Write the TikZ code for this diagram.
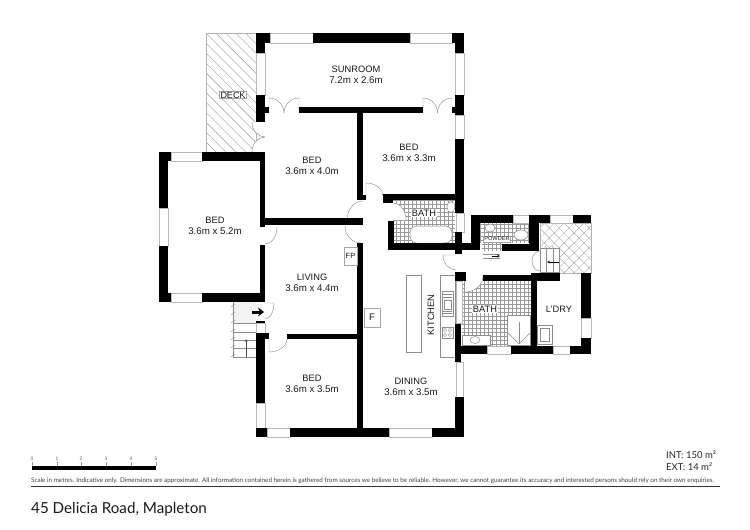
\documentclass[tikz,border=0pt]{standalone}
\usepackage{fontspec}
\setmainfont{Liberation Sans}
\newfontfamily\titlefont{Lato}
\usetikzlibrary{patterns.meta,arrows.meta}
\newcommand{\roomsize}{\fontsize{9.7}{11.3}\selectfont}
\begin{document}
\begin{tikzpicture}[x=1pt,y=-1pt,
  wall/.style={fill=black},
  window/.style={draw=black!28,fill=white,line width=.7pt},
  door/.style={draw=black!45,line width=.45pt},
  fixture/.style={draw=black!45,fill=white,line width=.5pt},
  tile/.style={draw=black!40,line width=.35pt},
  room/.style={font=\fontsize{9.3}{11.3}\selectfont,align=center,text=black!90,inner sep=0pt},
  tag/.style={draw=black!35,fill=white,line width=.4pt,inner sep=1pt,text=black!90},
  small/.style={font=\fontsize{5}{6}\selectfont,text=black!60,inner sep=0pt}]
  \useasboundingbox (0,0) rectangle (750,530);
  
  %% outside areas
  \draw[draw=black!30,line width=.4pt,pattern={Lines[angle=-45,distance=7pt,line width=.4pt]},pattern color=black!40] (206,33) rectangle (256,152);
  \draw[draw=black!30,line width=.4pt,pattern={Hatch[angle=45,distance=7pt,line width=.3pt]},pattern color=black!40] (540,223) rectangle (591,273);
  \path[pattern={Dots[distance=2pt,radius=.3pt]},pattern color=black!55] (233,302) rectangle (256,322);
  
  %% tiles
  \draw[tile] (393,200) grid [step=4pt] (455,243);
  \draw[tile] (480,223) grid [step=4pt] (531,243);
  \draw[tile] (482,243) grid [step=4pt] (502,251);
  \draw[tile] (462,281) grid [step=4pt] (531,346);
  
  %% entry steps
  \draw[door] (233,302) -- (233,357) -- (256,357);
  \draw[door] (233,323) -- (256,323);
  \draw[door] (233,332) -- (256,332);
  \draw[door] (233,340) -- (256,340);
  \draw[door] (233,348) -- (256,348);
  \draw[door] (231,307) -- (235,304) (231,315) -- (235,312) (231,323) -- (235,320) (231,332) -- (235,329) (231,340) -- (235,337) (231,348) -- (235,345) (231,357) -- (235,354);
  \draw[draw=black!70,line width=.4pt,-stealth] (246,357) -- (246,339);
  \draw[line width=3pt,-{Stealth[length=6pt,width=9pt]}] (252,312) -- (264,312);
  
  %% porch steps
  \draw[fixture] (540,248) rectangle (559,272);
  \draw[door] (546,248) -- (546,272);
  \draw[door] (553,248) -- (553,272);
  \draw[door] (545,246) -- (547,249) (552,246) -- (554,249);
  \draw[line width=.4pt,-stealth] (559,262) -- (547,262);
  
  %% powder step
  \draw[door] (483,254) -- (500,254);
  \draw[door] (483,258) -- (500,258);
  \draw[line width=.4pt,-stealth] (492,256) -- (500,256);
  
  %% kitchen
  \draw[fixture] (406,275) rectangle (421,352);
  \draw[fixture] (440,275) rectangle (455,357);
  \draw[fixture] (442,291) rectangle (453,316);
  \draw[door] (444,300) rectangle (451,309);
  \draw[door] (443,294) -- (452,294) (443,297) -- (452,297) (443,311) -- (452,311) (443,313.5) -- (452,313.5);
  \draw[fixture] (442,327) rectangle (453,338);
  \draw[door] (445,330) circle [radius=1.6pt];
  \draw[door] (450,330) circle [radius=1.6pt];
  \draw[door] (445,335) circle [radius=1.6pt];
  \draw[door] (450,335) circle [radius=1.6pt];
  
  %% bathrooms
  \draw[fixture,rounded corners=7pt] (410,226) rectangle (452,243);
  \draw[fixture] (451,207) ellipse [x radius=4pt,y radius=5.5pt];
  \draw[fixture] (490,228) ellipse [x radius=5pt,y radius=4pt];
  \draw[fixture] (521,235) ellipse [x radius=7pt,y radius=5pt];
  \draw[fixture] (462,335) rectangle (490,345);
  \draw[fixture] (475,340) ellipse [x radius=5pt,y radius=3.5pt];
  \draw[fixture] (507,315) rectangle (530,345);
  \draw[door] (519,322) -- (519,344);
  \draw[door] (508,333) -- (519,344) -- (530,333);
  \draw[fixture] (537,325) rectangle (552,344);
  \draw[door] (540,328) rectangle (549,341);
  
  %% door swings with white behind them
  \fill[white] (393,220) -- (393,203) arc [start angle=90,end angle=0,x radius=13pt,y radius=17pt] -- cycle;
  \draw[door] (393,203) arc [start angle=90,end angle=0,x radius=13pt,y radius=17pt];
  \fill[white] (465,276) -- (465,292) arc [start angle=270,end angle=360,x radius=18pt,y radius=16pt] -- cycle;
  \draw[door] (465,292) arc [start angle=270,end angle=360,x radius=18pt,y radius=16pt];
  \fill[white] (265,122) -- (252,122) arc [start angle=180,end angle=270,x radius=13pt,y radius=15pt] arc [start angle=90,end angle=180,x radius=13pt,y radius=15pt] -- (265,152) -- cycle;
  \draw[door] (252,122) arc [start angle=180,end angle=270,x radius=13pt,y radius=15pt];
  \draw[door] (252,152) arc [start angle=180,end angle=90,x radius=13pt,y radius=15pt];
  
  %% other doors
  \draw[door] (269,113) -- (269,98) arc [start angle=90,end angle=0,radius=15pt];
  \draw[door] (299,113) -- (299,98) arc [start angle=90,end angle=180,radius=15pt];
  \draw[door] (423,113) -- (423,98) arc [start angle=90,end angle=0,x radius=14.5pt,y radius=15pt];
  \draw[door] (452,113) -- (452,98) arc [start angle=90,end angle=180,x radius=14.5pt,y radius=15pt];
  \draw[door] (366,200) -- (366,183) arc [start angle=90,end angle=0,x radius=17pt,y radius=13pt];
  \draw[door] (363,201) arc [start angle=90,end angle=180,x radius=16pt,y radius=19pt];
  \draw[door] (345,226) arc [start angle=180,end angle=270,x radius=16pt,y radius=17pt];
  \draw[door] (277,227) arc [start angle=0,end angle=-90,x radius=12pt,y radius=17pt];
  \draw[door] (265,303) -- (274,303) arc [start angle=0,end angle=-90,x radius=9pt,y radius=16pt];
  \draw[door] (269,339) -- (269,352) arc [start angle=270,end angle=360,x radius=18pt,y radius=13pt];
  \draw[door] (456,255) -- (443,255) arc [start angle=180,end angle=270,x radius=13pt,y radius=15pt];
  \draw[door] (540,251) arc [start angle=90,end angle=180,x radius=8pt,y radius=10pt] arc [start angle=180,end angle=270,x radius=8pt,y radius=10pt];
  
  %% windows
  \draw[window] (270,33) rectangle (313,43);
  \draw[window] (410,33) rectangle (452,43);
  \draw[window] (256,53) rectangle (265,95);
  \draw[window] (455,53) rectangle (464,95);
  \draw[window] (455,115) rectangle (464,139);
  \draw[window] (456,213) rectangle (464,232);
  \draw[window] (456,281) rectangle (462,323);
  \draw[window] (456,362) rectangle (463,397);
  \draw[window] (171,152) rectangle (202,161);
  \draw[window] (159,208) rectangle (168,246);
  \draw[window] (171,293) rectangle (202,302);
  \draw[window] (256,323) rectangle (265,333);
  \draw[window] (256,403) rectangle (265,428);
  \draw[window] (267,428) rectangle (290,437);
  \draw[window] (389,428) rectangle (432,437);
  \draw[window] (513,215) rectangle (529,223);
  \draw[window] (550,215) rectangle (573,223);
  \draw[window] (487,346) rectangle (511,354);
  \draw[window] (553,346) rectangle (570,354);
  \draw[window] (581,318) rectangle (591,338);
  
  %% sunroom walls
  \fill[wall] (256,33) rectangle (270,43);
  \fill[wall] (313,33) rectangle (410,43);
  \fill[wall] (452,33) rectangle (464,43);
  \fill[wall] (256,33) rectangle (265,53);
  \fill[wall] (455,33) rectangle (464,53);
  \fill[wall] (256,95) rectangle (265,122);
  \fill[wall] (455,95) rectangle (464,115);
  \fill[wall] (265,107) rectangle (269,113);
  \fill[wall] (452,107) rectangle (455,113);
  \fill[wall] (299,107) rectangle (423,113);
  
  %% west bedroom walls
  \fill[wall] (159,152) rectangle (171,161);
  \fill[wall] (202,152) rectangle (265,161);
  \fill[wall] (159,152) rectangle (168,208);
  \fill[wall] (159,246) rectangle (168,302);
  \fill[wall] (159,293) rectangle (171,302);
  \fill[wall] (202,293) rectangle (265,302);
  \fill[wall] (260,152) rectangle (265,227);
  \fill[wall] (260,245) rectangle (265,302);
  \fill[wall] (260,218) rectangle (363,225);
  \fill[wall] (256,321) rectangle (265,323);
  
  %% middle walls
  \fill[wall] (357,113) rectangle (363,200);
  \fill[wall] (363,195) rectangle (366,200);
  \fill[wall] (357,243) rectangle (363,430);
  \fill[wall] (256,333) rectangle (265,403);
  \fill[wall] (265,333) rectangle (269,339);
  \fill[wall] (287,334) rectangle (363,339);
  \fill[wall] (256,428) rectangle (267,437);
  \fill[wall] (290,428) rectangle (389,437);
  \fill[wall] (432,428) rectangle (464,437);
  
  %% east walls
  \fill[wall] (455,139) rectangle (464,213);
  \fill[wall] (455,232) rectangle (462,254);
  \fill[wall] (383,194) rectangle (455,200);
  \fill[wall] (383,200) rectangle (393,203);
  \fill[wall] (388,221) rectangle (394,249);
  \fill[wall] (388,243) rectangle (480,250);
  \fill[wall] (455,272) rectangle (466,281);
  \fill[wall] (455,324) rectangle (461,362);
  \fill[wall] (455,397) rectangle (464,437);
  
  %% back wing walls
  \fill[wall] (471,215) rectangle (513,223);
  \fill[wall] (529,215) rectangle (550,223);
  \fill[wall] (573,215) rectangle (591,223);
  \fill[wall] (471,215) rectangle (480,250);
  \fill[wall] (502,244) rectangle (539,251);
  \fill[wall] (529,215) rectangle (539,251);
  \fill[wall] (483,275) rectangle (537,281);
  \fill[wall] (531,273) rectangle (560,281);
  \fill[wall] (531,273) rectangle (537,354);
  \fill[wall] (581,273) rectangle (591,318);
  \fill[wall] (581,338) rectangle (591,354);
  \fill[wall] (461,346) rectangle (487,354);
  \fill[wall] (511,346) rectangle (553,354);
  \fill[wall] (570,346) rectangle (591,354);
  
  %% room labels
  \node[room] (sunroom) at (356,75) {SUNROOM\\\roomsize 7.2m x 2.6m};
  \node[room] (bedMid) at (312,165.5) {BED\\\roomsize 3.6m x 4.0m};
  \node[room] (bedEast) at (409,153) {BED\\\roomsize 3.6m x 3.3m};
  \node[room] (bedWest) at (215,226) {BED\\\roomsize 3.6m x 5.2m};
  \node[room] (living) at (312,283) {LIVING\\\roomsize 3.6m x 4.4m};
  \node[room] (bedSouth) at (312,384) {BED\\\roomsize 3.6m x 3.5m};
  \node[room] (dining) at (411,387) {DINING\\\roomsize 3.6m x 3.5m};
  \node[room,fill=white,inner sep=1pt] (bathUp) at (424,213) {BATH};
  \node[room,fill=white,inner sep=1pt] (bathLow) at (485,309) {BATH};
  \node[room] (laundry) at (559,309) {L'DRY};
  \node[room,rotate=90] (kitchen) at (431,315) {KITCHEN};
  
  %% boxed labels
  \node[tag,font=\fontsize{9}{10}\selectfont,inner xsep=1pt,inner ysep=.5pt] (deck) at (233,95) {DECK};
  \node[tag,font=\fontsize{5.6}{7}\selectfont] (powder) at (497,239) {POWDER};
  \node[tag,font=\fontsize{7.5}{9}\selectfont,minimum width=13pt,minimum height=18pt,inner sep=0pt] (fp) at (350.5,256) {FP};
  \node[tag,font=\fontsize{9.5}{11}\selectfont,minimum width=16pt,minimum height=19pt,inner sep=0pt] (flue) at (372,317.5) {F};
  
  %% scale bar
  \fill (32,466) rectangle (156,470);
  \draw[draw=black!40,line width=.3pt] (32,462) -- (32,466) (57,462) -- (57,466) (81,462) -- (81,466) (106,462) -- (106,466) (131,462) -- (131,466) (156,462) -- (156,466);
  \node[small] (s0) at (32,459) {0};
  \node[small] (s1) at (57,459) {1};
  \node[small] (s2) at (81,459) {2};
  \node[small] (s3) at (106,459) {3};
  \node[small] (s4) at (131,459) {4};
  \node[small] (s5) at (156,459) {5};
  
  %% footer
  \node[anchor=west,inner sep=0pt,font=\titlefont\fontsize{6.3}{7}\selectfont,text=black!75] (note) at (31,481) {Scale in metres. Indicative only. Dimensions are approximate. All information contained herein is gathered from sources we believe to be reliable. However, we cannot guarantee its accuracy and interested persons should rely on their own enquiries.};
  \draw[draw=black!80,line width=.8pt] (31,486) -- (720,486);
  \node[anchor=west,inner sep=0pt,font=\titlefont\fontsize{9.5}{11}\selectfont,text=black!85] (intArea) at (666,455) {INT: 150 m²};
  \node[anchor=west,inner sep=0pt,font=\titlefont\fontsize{9.5}{11}\selectfont,text=black!85] (extArea) at (666,467) {EXT: 14 m²};
  \node[anchor=west,inner sep=0pt,font=\titlefont\fontsize{15.2}{18}\selectfont,text=black!90] (address) at (31,509) {45 Delicia Road, Mapleton};
\end{tikzpicture}
\end{document}
